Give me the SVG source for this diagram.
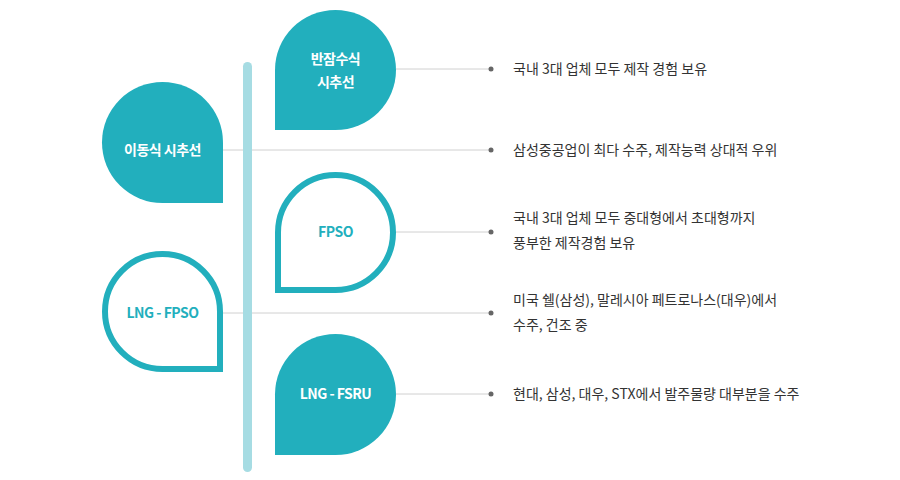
<svg xmlns="http://www.w3.org/2000/svg" width="900" height="480" viewBox="0 0 900 480">
<style>
.fill{fill:#22afbd}
.out{fill:#fff;stroke:#22afbd;stroke-width:6}
.lbl{font-family:"Noto Sans CJK KR","Noto Sans",sans-serif;font-size:14px;font-weight:bold;text-anchor:middle;letter-spacing:-0.5px}
.w{fill:#fff}.t{fill:#22afbd}
.desc{font-family:"Noto Sans CJK KR","Noto Sans",sans-serif;font-size:14px;fill:#333}
.ln{stroke:#d0d0d0;stroke-width:1}
.dot{fill:#666}
</style>
<g id="connectors">
<line class="ln" x1="396" y1="69" x2="491" y2="69"/>
<line class="ln" x1="223" y1="150" x2="491" y2="150"/>
<line class="ln" x1="393" y1="232" x2="491" y2="232"/>
<line class="ln" x1="220" y1="313" x2="491" y2="313"/>
<line class="ln" x1="396" y1="394" x2="491" y2="394"/>
<circle class="dot" cx="491" cy="69" r="2.5"/>
<circle class="dot" cx="491" cy="150" r="2.5"/>
<circle class="dot" cx="491" cy="232" r="2.5"/>
<circle class="dot" cx="491" cy="313" r="2.5"/>
<circle class="dot" cx="491" cy="394" r="2.5"/>
</g>
<rect id="bar" x="243" y="62" width="9" height="410" rx="4.5" fill="#a6dce3"/>
<g id="n1"><path class="fill" d="M275,130 V70 A60.5,60 0 1 1 335.5,130 Z"/>
<text class="lbl w" x="335.5" y="64">반잠수식</text><text class="lbl w" x="335.5" y="87">시추선</text></g>
<g id="n2"><path class="fill" d="M223,203 H162.5 A60.5,60.5 0 1 1 223,142.5 Z"/>
<text class="lbl w" x="162.5" y="155">이동식 시추선</text></g>
<g id="n3"><path class="out" d="M278,290 V232.5 A57.5,57.5 0 1 1 335.5,290 Z"/>
<text class="lbl t" x="335.5" y="237">FPSO</text></g>
<g id="n4"><path class="out" d="M220,369 H162.5 A57.5,57.5 0 1 1 220,311.5 Z"/>
<text class="lbl t" x="162.5" y="318">LNG - FPSO</text></g>
<g id="n5"><path class="fill" d="M275,455 V394.5 A60.5,60.5 0 1 1 335.5,455 Z"/>
<text class="lbl w" x="335.5" y="399">LNG - FSRU</text></g>
<g id="texts">
<text class="desc" x="513" y="74">국내 3대 업체 모두 제작 경험 보유</text>
<text class="desc" x="513" y="155">삼성중공업이 최다 수주, 제작능력 상대적 우위</text>
<text class="desc" x="513" y="223">국내 3대 업체 모두 중대형에서 초대형까지</text>
<text class="desc" x="513" y="248">풍부한 제작경험 보유</text>
<text class="desc" x="513" y="305">미국 쉘(삼성), 말레시아 페트로나스(대우)에서</text>
<text class="desc" x="513" y="330">수주, 건조 중</text>
<text class="desc" x="513" y="399">현대, 삼성, 대우, STX에서 발주물량 대부분을 수주</text>
</g>
</svg>
